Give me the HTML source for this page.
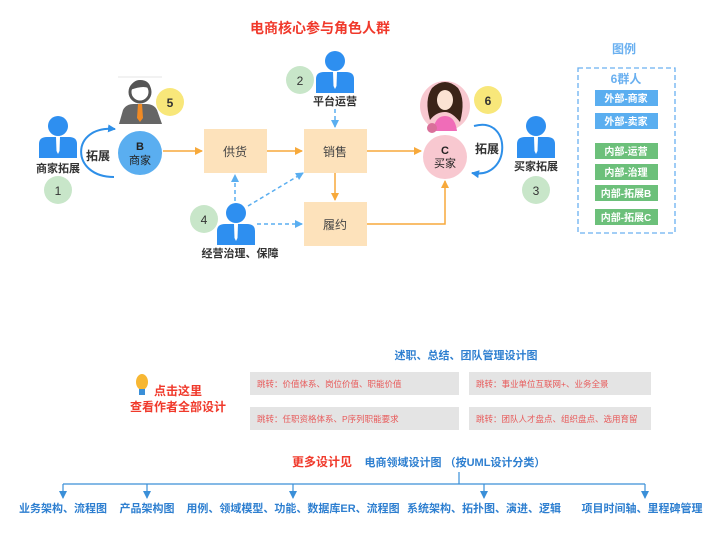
<!DOCTYPE html>
<html><head><meta charset="utf-8"><style>
body{margin:0;background:#fff;width:720px;height:533px;overflow:hidden}
text{font-family:"Liberation Sans","Noto Sans CJK SC",sans-serif}
</style></head><body>
<svg width="720" height="533" viewBox="0 0 720 533" xmlns="http://www.w3.org/2000/svg">
<defs>
<marker id="ao" markerWidth="8" markerHeight="8" refX="7" refY="4" orient="auto" markerUnits="userSpaceOnUse"><path d="M0,0L8,4L0,8z" fill="#f7a93b"/></marker>
<marker id="ab" markerWidth="8" markerHeight="8" refX="7" refY="4" orient="auto" markerUnits="userSpaceOnUse"><path d="M0,0L8,4L0,8z" fill="#5aaef0"/></marker>
<marker id="ad" markerWidth="8" markerHeight="8" refX="7" refY="4" orient="auto" markerUnits="userSpaceOnUse"><path d="M0,0L8,4L0,8z" fill="#2e8fe8"/></marker>
<marker id="at" markerWidth="8" markerHeight="8" refX="7" refY="4" orient="auto" markerUnits="userSpaceOnUse"><path d="M0,0L8,4L0,8z" fill="#3a8fd8"/></marker>
<g id="p"><circle cx="0" cy="-12" r="10" fill="#2e8ff0"/><path d="M-19,20 L-19,6 Q-19,-1 -11,-1 L11,-1 Q19,-1 19,6 L19,20 Z" fill="#2e8ff0"/><path d="M-2,-1 L2,-1 L1.5,13 L0,16 L-1.5,13 Z" fill="#fff"/></g>
</defs>
<text x="320" y="33" font-size="14" font-weight="bold" fill="#f0392b" text-anchor="middle">电商核心参与角色人群</text>

<use href="#p" x="58" y="138"/>
<text x="58" y="172" font-size="11" fill="#333" text-anchor="middle" font-weight="bold">商家拓展</text>
<circle cx="58" cy="190" r="14" fill="#c8e6c9"/><text x="58" y="195" font-size="12" text-anchor="middle" fill="#333">1</text>
<path d="M114,177 C70,177 70,125 115,129" fill="none" stroke="#2e8fe8" stroke-width="2" marker-end="url(#ad)"/>
<text x="98" y="160" font-size="12" font-weight="bold" fill="#333" text-anchor="middle">拓展</text>

<line x1="118" y1="77" x2="162" y2="77" stroke="#ccc" stroke-width="0.6"/>
<circle cx="140" cy="92" r="10" fill="#fff" stroke="#555" stroke-width="3"/>
<path d="M130,90 Q132,80 140,80 Q150,80 151,90 Q146,84 130,90Z" fill="#555"/>
<path d="M119,124 L123,110 Q126,104 134,104 L146,104 Q154,104 157,110 L162,124Z" fill="#666"/>
<path d="M138,104 L142,104 L143,118 L140,122 L137,118Z" fill="#f08a24"/>
<circle cx="170" cy="102" r="14" fill="#f8e77a"/><text x="170" y="107" font-size="12" font-weight="bold" text-anchor="middle" fill="#333">5</text>
<circle cx="140" cy="153" r="22" fill="#5aaef0"/>
<text x="140" y="150" font-size="11" font-weight="bold" fill="#222" text-anchor="middle">B</text>
<text x="140" y="164" font-size="11" fill="#222" text-anchor="middle">商家</text>

<rect x="204" y="129" width="63" height="44" fill="#fde2bb"/><text x="235" y="156" font-size="12" text-anchor="middle" fill="#444">供货</text>
<rect x="304" y="129" width="63" height="44" fill="#fde2bb"/><text x="335" y="156" font-size="12" text-anchor="middle" fill="#444">销售</text>
<rect x="304" y="202" width="63" height="44" fill="#fde2bb"/><text x="335" y="229" font-size="12" text-anchor="middle" fill="#444">履约</text>
<line x1="163" y1="151" x2="202" y2="151" stroke="#f7a93b" stroke-width="1.5" marker-end="url(#ao)"/>
<line x1="267" y1="151" x2="302" y2="151" stroke="#f7a93b" stroke-width="1.5" marker-end="url(#ao)"/>
<line x1="335" y1="173" x2="335" y2="200" stroke="#f7a93b" stroke-width="1.5" marker-end="url(#ao)"/>
<line x1="367" y1="151" x2="421" y2="151" stroke="#f7a93b" stroke-width="1.5" marker-end="url(#ao)"/>
<polyline points="367,224 445,224 445,181" fill="none" stroke="#f7a93b" stroke-width="1.5" marker-end="url(#ao)"/>

<use href="#p" x="335" y="73"/>
<text x="335" y="105" font-size="11" font-weight="bold" fill="#333" text-anchor="middle">平台运营</text>
<circle cx="300" cy="80" r="14" fill="#c8e6c9"/><text x="300" y="85" font-size="12" text-anchor="middle" fill="#333">2</text>
<line x1="335" y1="109" x2="335" y2="127" stroke="#5aaef0" stroke-width="1.5" stroke-dasharray="4,3" marker-end="url(#ab)"/>

<use href="#p" x="236" y="225"/>
<text x="240" y="257" font-size="11" font-weight="bold" fill="#333" text-anchor="middle">经营治理、保障</text>
<circle cx="204" cy="219" r="14" fill="#c8e6c9"/><text x="204" y="224" font-size="12" text-anchor="middle" fill="#333">4</text>
<line x1="235" y1="201" x2="235" y2="175" stroke="#5aaef0" stroke-width="1.5" stroke-dasharray="4,3" marker-end="url(#ab)"/>
<line x1="248" y1="206" x2="303" y2="173" stroke="#5aaef0" stroke-width="1.5" stroke-dasharray="4,3" marker-end="url(#ab)"/>
<line x1="257" y1="224" x2="302" y2="224" stroke="#5aaef0" stroke-width="1.5" stroke-dasharray="4,3" marker-end="url(#ab)"/>

<circle cx="445" cy="157" r="22" fill="#f8c8d0"/>
<circle cx="445" cy="106" r="25" fill="#f8c8d0"/>
<path d="M430,120 Q424,100 432,88 Q445,76 458,88 Q466,100 460,122 Q452,112 445,112 Q436,112 430,120Z" fill="#3b2418"/>
<ellipse cx="445" cy="100" rx="8" ry="10" fill="#fbe3d3"/>
<path d="M433,131 Q435,116 445,116 Q455,116 457,131Z" fill="#f06cb8"/>
<circle cx="432" cy="128" r="5" fill="#d9709a"/>
<text x="445" y="154" font-size="11" font-weight="bold" fill="#222" text-anchor="middle">C</text>
<text x="445" y="167" font-size="11" fill="#222" text-anchor="middle">买家</text>
<circle cx="488" cy="100" r="14" fill="#f8e77a"/><text x="488" y="105" font-size="12" font-weight="bold" text-anchor="middle" fill="#333">6</text>
<path d="M474,126 C512,115 512,180 472,173" fill="none" stroke="#2e8fe8" stroke-width="2" marker-end="url(#ad)"/>
<text x="487" y="153" font-size="12" font-weight="bold" fill="#333" text-anchor="middle">拓展</text>
<use href="#p" x="536" y="138"/>
<text x="536" y="170" font-size="11" font-weight="bold" fill="#333" text-anchor="middle">买家拓展</text>
<circle cx="536" cy="190" r="14" fill="#c8e6c9"/><text x="536" y="195" font-size="12" text-anchor="middle" fill="#333">3</text>

<text x="624" y="53" font-size="12" font-weight="bold" fill="#6ab0f0" text-anchor="middle">图例</text>
<rect x="578" y="68" width="97" height="165" fill="none" stroke="#6ab0f0" stroke-width="1.3" stroke-dasharray="5,3"/>
<text x="626" y="83" font-size="12" font-weight="bold" fill="#6ab0f0" text-anchor="middle">6群人</text>
<g font-size="10" font-weight="bold" fill="#fff" text-anchor="middle">
<rect x="595" y="90" width="63" height="16" fill="#5aaef0"/><text x="626" y="102">外部-商家</text>
<rect x="595" y="113" width="63" height="16" fill="#5aaef0"/><text x="626" y="125">外部-卖家</text>
<rect x="595" y="143" width="63" height="16" fill="#6cc07a"/><text x="626" y="155">内部-运营</text>
<rect x="595" y="164" width="63" height="16" fill="#6cc07a"/><text x="626" y="176">内部-治理</text>
<rect x="595" y="185" width="63" height="16" fill="#6cc07a"/><text x="626" y="197">内部-拓展B</text>
<rect x="595" y="209" width="63" height="16" fill="#6cc07a"/><text x="626" y="221">内部-拓展C</text>
</g>

<text x="466" y="359" font-size="11" font-weight="bold" fill="#2e7fd0" text-anchor="middle">述职、总结、团队管理设计图</text>
<rect x="250" y="372" width="209" height="23" fill="#e4e4e4"/>
<rect x="469" y="372" width="182" height="23" fill="#e4e4e4"/>
<rect x="250" y="407" width="209" height="23" fill="#e4e4e4"/>
<rect x="469" y="407" width="182" height="23" fill="#e4e4e4"/>
<g font-size="8.5" fill="#e85a5a">
<text x="257" y="387">跳转：价值体系、岗位价值、职能价值</text>
<text x="476" y="387">跳转：事业单位互联网+、业务全景</text>
<text x="257" y="422">跳转：任职资格体系、P序列职能要求</text>
<text x="476" y="422">跳转：团队人才盘点、组织盘点、选用育留</text>
</g>
<ellipse cx="142" cy="382" rx="6" ry="8" fill="#f7b733"/>
<rect x="139" y="389" width="6" height="6" fill="#3a8fd8"/>
<text x="178" y="395" font-size="12" font-weight="bold" fill="#f0392b" text-anchor="middle">点击这里</text>
<text x="178" y="411" font-size="12" font-weight="bold" fill="#f0392b" text-anchor="middle">查看作者全部设计</text>
<text x="322" y="466" font-size="12" font-weight="bold" fill="#f0392b" text-anchor="middle">更多设计见</text>
<text x="455" y="466" font-size="11" font-weight="bold" fill="#2e7fd0" text-anchor="middle">电商领域设计图 （按UML设计分类）</text>
<g stroke="#3a8fd8" stroke-width="1.2" fill="none">
<line x1="459" y1="472" x2="459" y2="484"/>
<line x1="63" y1="484" x2="645" y2="484"/>
<line x1="63" y1="484" x2="63" y2="498" marker-end="url(#at)"/>
<line x1="147" y1="484" x2="147" y2="498" marker-end="url(#at)"/>
<line x1="293" y1="484" x2="293" y2="498" marker-end="url(#at)"/>
<line x1="484" y1="484" x2="484" y2="498" marker-end="url(#at)"/>
<line x1="645" y1="484" x2="645" y2="498" marker-end="url(#at)"/>
</g>
<g font-size="11" font-weight="bold" fill="#2e7fd0" text-anchor="middle">
<text x="63" y="512">业务架构、流程图</text>
<text x="147" y="512">产品架构图</text>
<text x="293" y="512">用例、领域模型、功能、数据库ER、流程图</text>
<text x="484" y="512">系统架构、拓扑图、演进、逻辑</text>
<text x="642" y="512">项目时间轴、里程碑管理</text>
</g>
</svg>
</body></html>
